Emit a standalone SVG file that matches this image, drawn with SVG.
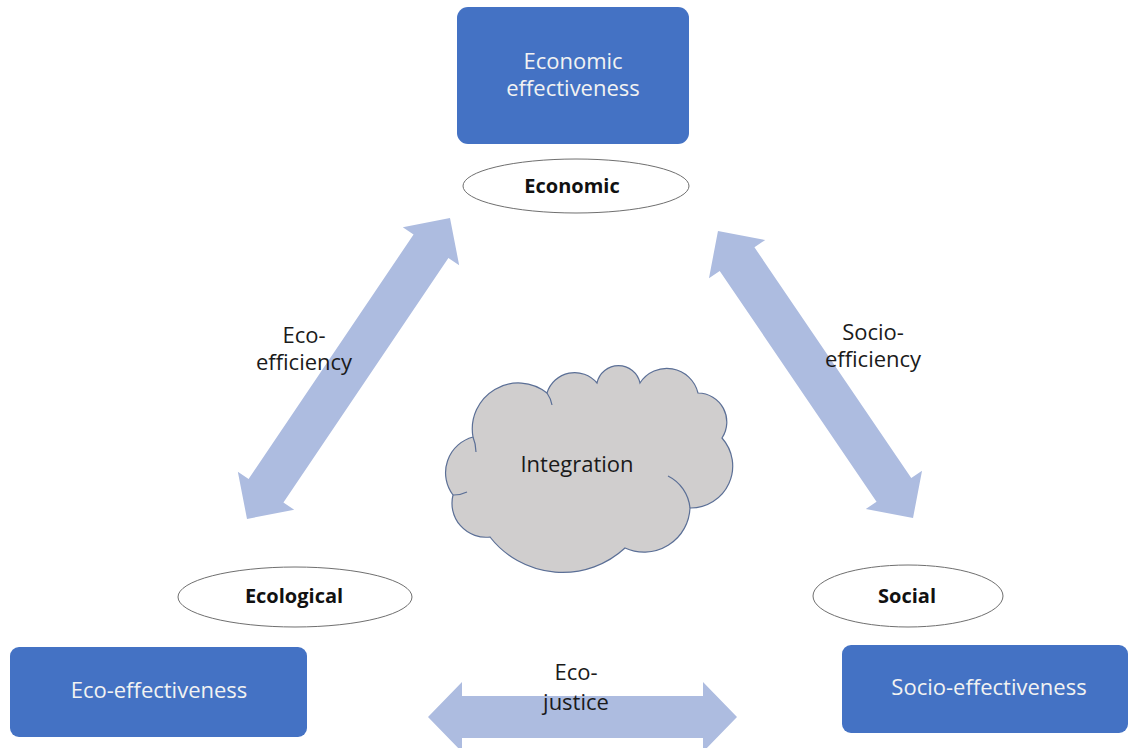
<svg xmlns="http://www.w3.org/2000/svg" width="1132" height="748" viewBox="0 0 1132 748">
  <style>
    .box { fill: #4472C4; }
    .box-text { font-family: "Open Sans", "Liberation Sans", sans-serif; font-size: 22px; fill: #F2F2F2; text-anchor: middle; }
    .pillar { fill: #FFFFFF; stroke: #6F6F6F; stroke-width: 1; }
    .pillar-text { font-family: "Open Sans", "Liberation Sans", sans-serif; font-size: 20px; font-weight: bold; fill: #111111; text-anchor: middle; }
    .link { fill: #ADBCE0; }
    .label { font-family: "Open Sans", "Liberation Sans", sans-serif; font-size: 22px; fill: #1A1A1A; text-anchor: middle; }
    .cloud { fill: #D0CECE; stroke: #5B6F96; stroke-width: 1.2; }
    .cloud-inner { fill: none; stroke: #5B6F96; stroke-width: 1.2; }
  </style>

  <!-- Connectors: double-headed block arrows between the three pillars -->
  <g id="connectors">
    <!-- Ecological <-> Economic -->
    <polygon class="link" transform="translate(348.5 368.5) rotate(-56)"
      points="-181.5,0 -147.5,-34 -147.5,-21 147.5,-21 147.5,-34 181.5,0 147.5,34 147.5,21 -147.5,21 -147.5,34"/>
    <!-- Economic <-> Social -->
    <polygon class="link" transform="translate(815.5 374.5) rotate(55.8)"
      points="-173.5,0 -139.5,-34 -139.5,-21 139.5,-21 139.5,-34 173.5,0 139.5,34 139.5,21 -139.5,21 -139.5,34"/>
    <!-- Ecological <-> Social -->
    <polygon class="link" transform="translate(582.5 717)"
      points="-154.5,0 -120.5,-35 -120.5,-21 120.5,-21 120.5,-35 154.5,0 120.5,35 120.5,21 -120.5,21 -120.5,35"/>
    <text class="label" x="304" y="343">Eco-</text>
    <text class="label" x="304" y="370">efficiency</text>
    <text class="label" x="873" y="340">Socio-</text>
    <text class="label" x="873" y="367">efficiency</text>
    <text class="label" x="576" y="680">Eco-</text>
    <text class="label" x="576" y="710">justice</text>
  </g>

  <!-- Economic pillar -->
  <g id="economic-effectiveness">
    <rect class="box" x="457" y="7" width="232" height="137" rx="11"/>
    <text class="box-text" x="573" y="69">Economic</text>
    <text class="box-text" x="573" y="96">effectiveness</text>
  </g>
  <g id="economic">
    <ellipse class="pillar" cx="576" cy="186" rx="113" ry="27"/>
    <text class="pillar-text" x="572" y="193">Economic</text>
  </g>

  <!-- Ecological pillar -->
  <g id="ecological">
    <ellipse class="pillar" cx="295" cy="597" rx="117" ry="30"/>
    <text class="pillar-text" x="294" y="603">Ecological</text>
  </g>
  <g id="eco-effectiveness">
    <rect class="box" x="10" y="647" width="297" height="90" rx="9"/>
    <text class="box-text" x="159" y="698">Eco-effectiveness</text>
  </g>

  <!-- Social pillar -->
  <g id="social">
    <ellipse class="pillar" cx="908" cy="596" rx="95" ry="31"/>
    <text class="pillar-text" x="907" y="603">Social</text>
  </g>
  <g id="socio-effectiveness">
    <rect class="box" x="842" y="645" width="286" height="88" rx="9"/>
    <text class="box-text" x="989" y="695">Socio-effectiveness</text>
  </g>

  <!-- Integration cloud in the centre: a ring of lobes traced anticlockwise -->
  <g id="integration">
    <path class="cloud" d="M453,495
      A34,34 0 0 0 490,537
      A92,92 0 0 0 625,548
      A46,46 0 0 0 690,508
      A42,42 0 0 0 722,438
      A29,29 0 0 0 698,393
      A32,32 0 0 0 640,383
      A22,22 0 0 0 597,383
      A29,29 0 0 0 547,393
      A46,46 0 0 0 473,437
      A37,37 0 0 0 453,495 Z"/>
    <path class="cloud-inner" d="M473,437 A40,40 0 0 1 476,452"/>
    <path class="cloud-inner" d="M547,393 A30,30 0 0 1 552,405"/>
    <path class="cloud-inner" d="M690,508 A40,40 0 0 0 668,476"/>
    <path class="cloud-inner" d="M453,495 A30,30 0 0 0 467,492"/>
    <text class="label" x="577" y="472">Integration</text>
  </g>
</svg>
